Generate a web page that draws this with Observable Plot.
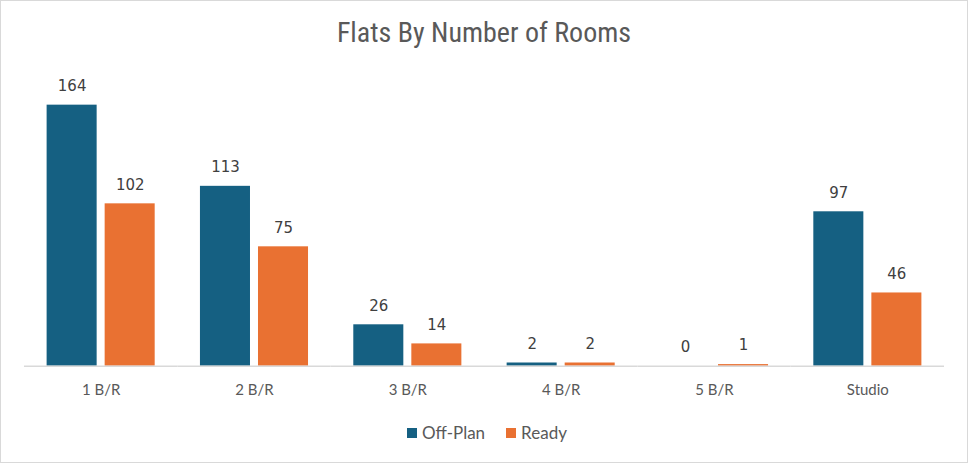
<!DOCTYPE html>
<html><head><meta charset="utf-8">
<script src="https://cdn.jsdelivr.net/npm/d3@7"></script>
<script src="https://cdn.jsdelivr.net/npm/@observablehq/plot@0.6"></script>
<style>
html,body{margin:0;padding:0;background:#fff;}
#chart{position:relative;width:966px;height:461px;border:1px solid #d9d9d9;overflow:hidden;font-family:Lato,"Liberation Sans",sans-serif;}
#title{position:absolute;left:0;top:15px;width:966px;text-align:center;font-family:"Liberation Sans Narrow","Roboto Condensed","Liberation Sans",sans-serif;font-size:28px;color:#595959;}
#plot{position:absolute;left:-1px;top:61px;}
#legend{position:absolute;left:0;top:421px;width:966px;display:flex;justify-content:center;gap:21px;font-size:17px;color:#595959;padding-left:6px;box-sizing:border-box;}
#legend span.item{display:flex;align-items:center;gap:5px;}
#legend span.sw{display:inline-block;width:10px;height:10px;}
</style></head>
<body>
<div id="chart">
  <div id="title">Flats By Number of Rooms</div>
  <div id="plot"></div>
  <div id="legend"></div>
</div>
<script>
const categories = ["1 B/R","2 B/R","3 B/R","4 B/R","5 B/R","Studio"];
const series = ["Off-Plan","Ready"];
const offPlan = [164,113,26,2,0,97];
const ready = [102,75,14,2,1,46];
const colors = ["#156082","#E97132"];

const data = [];
categories.forEach((c,i)=>{
  data.push({cat:c, s:series[0], v:offPlan[i]});
  data.push({cat:c, s:series[1], v:ready[i]});
});

const plot = Plot.plot({
  width: 968,
  height: 346,
  marginTop: 42.7,
  marginBottom: 42,
  marginLeft: 24,
  marginRight: 23,
  style: {fontFamily: "Lato, 'Liberation Sans', sans-serif", fontSize: "15px", color: "#595959", background: "transparent"},
  fx: {domain: categories, padding: 0, round: false, label: null, axis: "bottom", tickSize: 0, tickPadding: 18},
  x: {domain: series, paddingInner: 0.138, paddingOuter: 0.39, round: false, axis: null},
  y: {domain: [0,164], axis: null},
  color: {domain: series, range: colors},
  marks: [
    Plot.barY(data, {fx: "cat", x: "s", y: "v", fill: "s"}),
    Plot.ruleY([0], {stroke: "#d9d9d9", strokeWidth: 1.5}),
    Plot.text(data, {fx: "cat", x: "s", y: "v", text: d => String(d.v), dy: -19, fill: "#404040", fontSize: 15, fontFamily: "'DejaVu Sans', sans-serif"})
  ]
});
document.getElementById("plot").appendChild(plot);

const lg = document.getElementById("legend");
series.forEach((s,i)=>{
  const it = document.createElement("span"); it.className="item";
  const sw = document.createElement("span"); sw.className="sw"; sw.style.background=colors[i];
  const t = document.createElement("span"); t.textContent=s;
  it.appendChild(sw); it.appendChild(t); lg.appendChild(it);
});
</script>
</body></html>
